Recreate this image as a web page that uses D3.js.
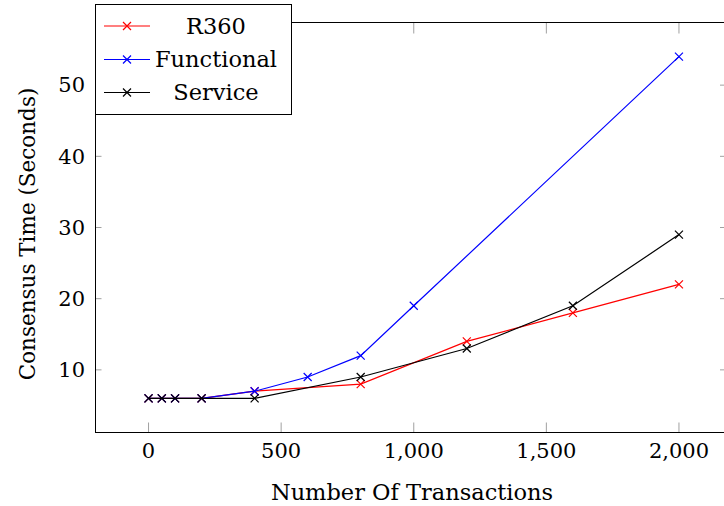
<!DOCTYPE html>
<html>
<head>
<meta charset="utf-8">
<script src="https://cdn.jsdelivr.net/npm/d3@7"></script>
<style>
  html, body { margin: 0; padding: 0; background: #fff; }
</style>
</head>
<body>
<script>
// データ
const r360 = [
  [0, 6], [50, 6], [100, 6], [200, 6], [400, 7], [800, 8], [1200, 14], [1600, 18], [2000, 22],
];
const functional = [
  [0, 6], [50, 6], [100, 6], [200, 6], [400, 7], [600, 9], [800, 12], [1000, 19], [2000, 54],
];
const service = [
  [0, 6], [50, 6], [100, 6], [200, 6], [400, 6], [800, 9], [1200, 13], [1600, 19], [2000, 29],
];
const seriesNames = ["R360", "Functional", "Service"];
const seriesColors = ["#ff0000", "#0000ff", "#000000"];
const xTicks = [0, 500, 1000, 1500, 2000];
const yTicks = [10, 20, 30, 40, 50];

const width = 724;
const height = 506;
const font = "'DejaVu Serif', 'Liberation Serif', 'Times New Roman', serif";

// 描画領域
const plot = { left: 95.5, right: 732, top: 22.5, bottom: 432.5 };

const x = d3.scaleLinear().domain([-200, 2200]).range([plot.left, plot.right]);
const y = d3.scaleLinear().domain([1.2, 58.8]).range([plot.bottom, plot.top]);

const svg = d3.select("body").append("svg").attr("width", width).attr("height", height);

// ティック（内向き）
const tickColor = "#a0a0a0";
const g = svg.append("g");
xTicks.forEach((t) => {
  g.append("line").attr("x1", x(t)).attr("x2", x(t))
    .attr("y1", plot.bottom).attr("y2", plot.bottom - 10)
    .attr("stroke", tickColor);
  g.append("line").attr("x1", x(t)).attr("x2", x(t))
    .attr("y1", plot.top).attr("y2", plot.top + 11)
    .attr("stroke", tickColor);
});
yTicks.forEach((t) => {
  g.append("line").attr("x1", plot.left).attr("x2", plot.left + 6)
    .attr("y1", y(t)).attr("y2", y(t))
    .attr("stroke", tickColor);
  g.append("line").attr("x1", plot.right).attr("x2", plot.right - 12)
    .attr("y1", y(t)).attr("y2", y(t))
    .attr("stroke", tickColor);
});

// 枠
svg.append("rect")
  .attr("x", plot.left).attr("y", plot.top)
  .attr("width", plot.right - plot.left).attr("height", plot.bottom - plot.top)
  .attr("fill", "none").attr("stroke", "#000").attr("stroke-width", 1);

// 目盛りラベル
const fmt = d3.format(",");
svg.append("g").selectAll("text")
  .data(xTicks).enter().append("text")
  .attr("x", (d) => x(d)).attr("y", 458)
  .attr("text-anchor", "middle")
  .attr("font-family", font)
  .attr("font-size", 21)
  .text((d) => fmt(d));

svg.append("g").selectAll("text")
  .data(yTicks).enter().append("text")
  .attr("x", 85).attr("y", (d) => y(d))
  .attr("dy", "0.35em")
  .attr("text-anchor", "end")
  .attr("font-family", font)
  .attr("font-size", 21)
  .text((d) => d);

// 軸タイトル
svg.append("text")
  .attr("x", 412).attr("y", 500)
  .attr("text-anchor", "middle")
  .attr("font-family", font)
  .attr("font-size", 22.5)
  .text("Number Of Transactions");

svg.append("text")
  .attr("transform", "translate(35, 234) rotate(-90)")
  .attr("text-anchor", "middle")
  .attr("font-family", font)
  .attr("font-size", 21.5)
  .text("Consensus Time (Seconds)");

// 系列
const line = d3.line().x((d) => x(d[0])).y((d) => y(d[1]));
const allSeries = [r360, functional, service];
const cross = (sel, s) =>
  sel.append("path")
    .attr("d", `M${-s},${-s}L${s},${s}M${-s},${s}L${s},${-s}`)
    .attr("fill", "none");

allSeries.forEach((data, i) => {
  const sg = svg.append("g");
  sg.append("path")
    .attr("d", line(data))
    .attr("fill", "none")
    .attr("stroke", seriesColors[i])
    .attr("stroke-width", 1.2);
  sg.selectAll(".mark")
    .data(data).enter().append("g")
    .attr("transform", (d) => `translate(${x(d[0])},${y(d[1])})`)
    .attr("stroke", seriesColors[i])
    .attr("stroke-width", 1.2)
    .each(function () { cross(d3.select(this), 4); });
});

// 凡例
const legend = svg.append("g");
legend.append("rect")
  .attr("x", 95.5).attr("y", 4.5).attr("width", 196).attr("height", 110)
  .attr("fill", "#fff").attr("stroke", "#000").attr("stroke-width", 1);
const legendY = [26, 59.5, 92.5];
seriesNames.forEach((name, i) => {
  legend.append("line")
    .attr("x1", 104).attr("x2", 150)
    .attr("y1", legendY[i]).attr("y2", legendY[i])
    .attr("stroke", seriesColors[i]).attr("stroke-width", 1.2);
  const m = legend.append("g")
    .attr("transform", `translate(127,${legendY[i]})`)
    .attr("stroke", seriesColors[i]).attr("stroke-width", 1.2);
  cross(m, 4);
  legend.append("text")
    .attr("x", 216).attr("y", legendY[i])
    .attr("dy", "0.35em")
    .attr("text-anchor", "middle")
    .attr("font-family", font)
    .attr("font-size", 22.5)
    .text(name);
});
</script>
</body>
</html>
